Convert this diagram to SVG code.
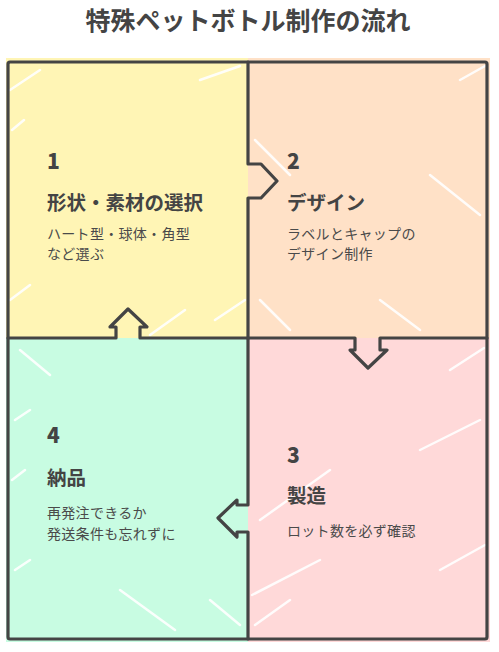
<svg xmlns="http://www.w3.org/2000/svg" width="499" height="652" viewBox="0 0 499 652">
<style>
.num{font-family:"Noto Sans CJK JP","Noto Sans",sans-serif;font-weight:900;font-size:21px;fill:#444}
.ttl{font-family:"Noto Sans CJK JP",sans-serif;font-weight:700;font-size:19.5px;fill:#444}
.sub{font-family:"Noto Sans CJK JP",sans-serif;font-size:14px;letter-spacing:0.3px;fill:#4a4a4a}
.head{font-family:"Noto Sans CJK JP",sans-serif;font-weight:700;font-size:25px;fill:#444}
.line{fill:none;stroke:#444;stroke-width:3.2;stroke-linejoin:round;stroke-linecap:round}
.hatch{fill:none;stroke:#fff;stroke-width:2.5;stroke-linecap:round;opacity:0.9}
</style>
<rect width="499" height="652" fill="#fff"/>
<text class="head" x="248" y="30" text-anchor="middle">特殊ペットボトル制作の流れ</text>
<g id="step1">
<rect x="6" y="58" width="244" height="282" fill="#FFF5B5"/>
<path class="hatch" d="M10 90 L40 70 M12 130 L24 120 M10 300 L30 285 M200 80 L240 66 M215 320 L245 300 M150 335 L185 310"/>
<text class="num" x="47" y="169">1</text>
<text class="ttl" x="47" y="210">形状・素材の選択</text>
<text class="sub" x="47" y="238.5">ハート型・球体・角型</text>
<text class="sub" x="47" y="259">など選ぶ</text>
</g>
<g id="step2">
<rect x="248" y="58" width="242" height="282" fill="#FFE1C7"/>
<path class="hatch" d="M255 140 L290 175 M430 175 L480 215 M460 80 L485 66 M380 300 L420 330 M260 300 L290 330"/>
<text class="num" x="287" y="169">2</text>
<text class="ttl" x="287" y="210">デザイン</text>
<text class="sub" x="287" y="238.5">ラベルとキャップの</text>
<text class="sub" x="287" y="259">デザイン制作</text>
</g>
<g id="step4">
<rect x="6" y="338" width="244" height="304" fill="#C8FCE2"/>
<path class="hatch" d="M20 350 L50 375 M15 420 L30 410 M120 590 L175 630 M210 600 L240 625 M15 570 L30 560 M12 480 L25 470"/>
<text class="num" x="47" y="443">4</text>
<text class="ttl" x="47" y="485">納品</text>
<text class="sub" x="47" y="518">再発注できるか</text>
<text class="sub" x="47" y="538.5">発送条件も忘れずに</text>
</g>
<g id="step3">
<rect x="248" y="338" width="242" height="304" fill="#FFD9D9"/>
<path class="hatch" d="M252 595 L320 560 M255 625 L290 600 M420 450 L480 420 M260 520 L330 470 M440 570 L485 545 M450 370 L484 348"/>
<text class="num" x="287" y="463">3</text>
<text class="ttl" x="287" y="503">製造</text>
<text class="sub" x="287" y="536">ロット数を必ず確認</text>
</g>
<g id="frame">
<rect class="line" x="8" y="62" width="479" height="577" rx="2"/>
</g>
<g id="connectors">
<path class="line" d="M248 62 L248 164 L261 164 L277 181 L261 198 L248 198 L248 338"/>
<path class="line" d="M248 338 L248 505 L237 505 L237 500 L218 518 L237 537 L237 532 L248 532 L248 639"/>
<path class="line" d="M8 338 L116 338 L116 327 L110 327 L128 309 L147 327 L140 327 L140 338 L248 338"/>
<path class="line" d="M248 338 L355 338 L355 350 L350 350 L368 368 L387 350 L380 350 L380 338 L487 338"/>
</g>
</svg>
